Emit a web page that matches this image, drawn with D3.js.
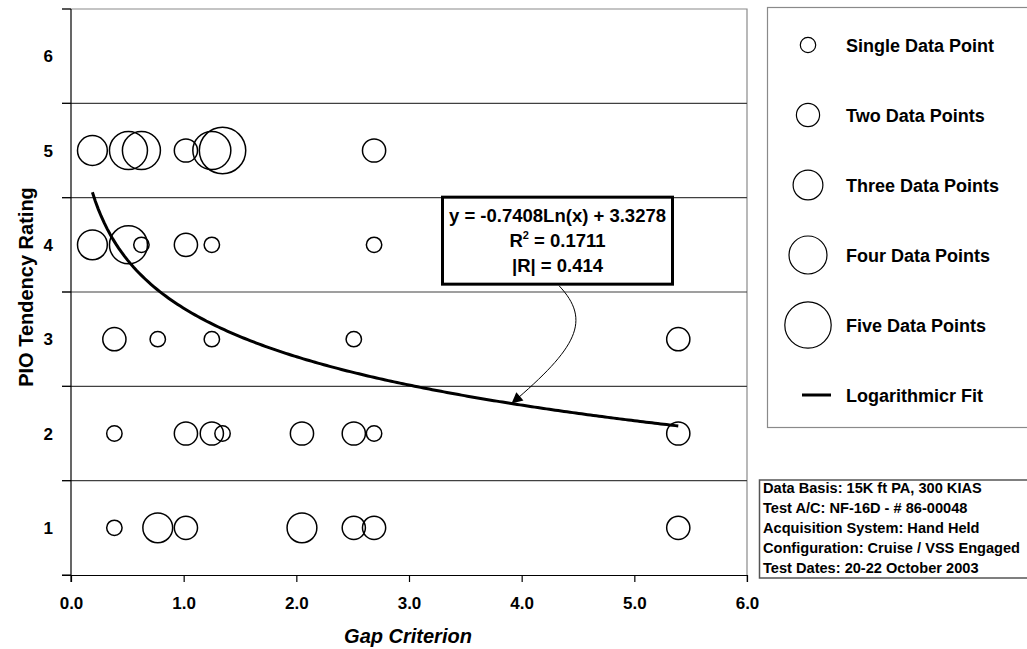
<!DOCTYPE html>
<html>
<head>
<meta charset="utf-8">
<script src="https://cdn.jsdelivr.net/npm/d3@7"></script>
<style>
  html, body { margin: 0; padding: 0; background: #fff; overflow: hidden; }
  svg { display: block; font-family: "Liberation Sans", Arial, sans-serif; font-weight: bold; }
</style>
</head>
<body>
<svg id="chart" width="1027" height="649"></svg>
<script>
// ---------------- data ----------------
const ratings     = [5,5,5,5,5,5,5, 4,4,4,4,4,4, 3,3,3,3,3, 2,2,2,2,2,2,2,2, 1,1,1,1,1,1,1];
const gapValues   = [0.19,0.51,0.625,1.02,1.25,1.345,2.69,
                     0.19,0.51,0.625,1.02,1.25,2.69,
                     0.385,0.77,1.25,2.51,5.39,
                     0.385,1.02,1.25,1.345,2.05,2.51,2.69,5.39,
                     0.385,0.77,1.02,2.05,2.51,2.69,5.39];
const pointCounts = [3,4,4,2,4,5,2,
                     3,4,1,2,1,1,
                     2,1,1,1,2,
                     1,2,2,1,2,2,1,2,
                     1,3,2,3,2,2,2];
const xTicks = [0,1,2,3,4,5,6];
const yTicks = [1,2,3,4,5,6];
const fitSlope = -0.7408;
const fitIntercept = 3.3278;
const fitLines = ["y = -0.7408Ln(x) + 3.3278", "R2 = 0.1711", "|R| = 0.414"];
const legendLabels = ["Single Data Point","Two Data Points","Three Data Points","Four Data Points","Five Data Points","Logarithmicr Fit"];
const legendCounts = [1,2,3,4,5];
const infoLines = ["Data Basis: 15K ft PA, 300 KIAS","Test A/C: NF-16D - # 86-00048","Acquisition System: Hand Held","Configuration: Cruise / VSS Engaged","Test Dates: 20-22 October 2003"];
const xTitle = "Gap Criterion";
const yTitle = "PIO Tendency Rating";
const arrowTargetX = 3.91;

// ---------------- layout ----------------
const svg = d3.select("#chart");
const x = d3.scaleLinear().domain([0, 6]).range([71, 747]);
const y = d3.scaleLinear().domain([0.5, 6.5]).range([575, 9]);
const rScale = d3.scaleOrdinal().domain([1,2,3,4,5]).range([7.7, 11.6, 14.9, 19, 23.2]);

const defs = svg.append("defs");
defs.append("marker").attr("id","arrow")
  .attr("viewBox","0 0 10 10").attr("refX",10).attr("refY",5)
  .attr("markerUnits","userSpaceOnUse").attr("markerWidth",15).attr("markerHeight",11)
  .attr("orient","auto")
  .append("path").attr("d","M0,0 L10,5 L0,10 Z").attr("fill","#000");

// plot border (top/right)
svg.append("path")
  .attr("d", `M${x(0)-9},${y(6.5)} H${x(6)} V${y(0.5)+7}`)
  .attr("fill","none").attr("stroke","#8a8a8a").attr("stroke-width",1.2);

// horizontal separators
const sep = [1.5,2.5,3.5,4.5,5.5];
svg.append("g").selectAll("line").data(sep).join("line")
  .attr("x1", x(0)-9).attr("x2", x(6))
  .attr("y1", d => y(d)).attr("y2", d => y(d))
  .attr("stroke","#404040").attr("stroke-width",1.1);

// x axis
const xAxis = d3.axisBottom(x).tickValues(xTicks).tickFormat(d3.format(".1f")).tickSize(7).tickSizeOuter(0).tickPadding(0);
const gx = svg.append("g").attr("transform", `translate(0,${y(0.5)})`).call(xAxis);
gx.select(".domain").attr("d", `M${x(0)-9},0.5H${x(6)}`).attr("stroke","#000").attr("stroke-width",1.2);
gx.selectAll(".tick line").attr("stroke","#000").attr("stroke-width",1.2);
gx.selectAll(".tick text").attr("y", 34).attr("dy", 0).attr("fill","#000")
  .style("font-size","17px").style("font-family",'"Liberation Sans", Arial, sans-serif').style("font-weight","bold");

// y axis (line + tick marks at boundaries)
svg.append("line").attr("x1", x(0)).attr("x2", x(0)).attr("y1", y(6.5)).attr("y2", y(0.5)+7)
  .attr("stroke","#000").attr("stroke-width",1.2);
svg.append("g").selectAll("line").data([0.5,1.5,2.5,3.5,4.5,5.5,6.5]).join("line")
  .attr("x1", x(0)-9).attr("x2", x(0)).attr("y1", d => y(d)).attr("y2", d => y(d))
  .attr("stroke","#000").attr("stroke-width",1.1);
svg.append("g").selectAll("text").data(yTicks).join("text")
  .attr("x", 53).attr("y", d => y(d) + 6).attr("text-anchor","end")
  .style("font-size","17px").text(d => d);

// axis titles
svg.append("text").attr("x", (x(0)+x(6))/2 - 1).attr("y", 643).attr("text-anchor","middle")
  .style("font-size","20px").style("font-style","italic").text(xTitle);
svg.append("text").attr("transform","translate(33,287) rotate(-90)").attr("text-anchor","middle")
  .style("font-size","20px").text(yTitle);

// bubbles
const pts = ratings.map((r,i) => ({r, g: gapValues[i], n: pointCounts[i]}));
svg.append("g").selectAll("circle").data(pts).join("circle")
  .attr("cx", d => x(d.g)).attr("cy", d => y(d.r)).attr("r", d => rScale(d.n))
  .attr("fill","none").attr("stroke","#000").attr("stroke-width",1.5);

// log fit
const [gMin, gMax] = d3.extent(gapValues);
const fitPts = d3.range(0, 201).map(i => {
  const gx_ = gMin + (gMax - gMin) * i / 200;
  return [gx_, fitSlope * Math.log(gx_) + fitIntercept];
});
svg.append("path").datum(fitPts)
  .attr("d", d3.line().x(d => x(d[0])).y(d => y(d[1])))
  .attr("fill","none").attr("stroke","#000").attr("stroke-width",3);

// annotation box
const bx = 442.5, by = y(4.5) - 0.5, bw = 230, bh = 87;
svg.append("rect").attr("x", bx).attr("y", by).attr("width", bw).attr("height", bh)
  .attr("fill","#fff").attr("stroke","#000").attr("stroke-width",3);
const cx0 = bx + bw/2;
svg.append("text").attr("x", cx0).attr("y", 222).attr("text-anchor","middle").style("font-size","18.5px").text(fitLines[0]);
const t2 = svg.append("text").attr("x", cx0).attr("y", 247).attr("text-anchor","middle").style("font-size","18.5px");
t2.append("tspan").text(fitLines[1].slice(0,1));
t2.append("tspan").attr("dy", -8).style("font-size","11px").text(fitLines[1].slice(1,2));
t2.append("tspan").attr("dy", 8).text(fitLines[1].slice(2));
svg.append("text").attr("x", cx0).attr("y", 272).attr("text-anchor","middle").style("font-size","18.5px").text(fitLines[2]);

// connector arrow
const tx = x(arrowTargetX), ty = y(fitSlope * Math.log(arrowTargetX) + fitIntercept);
const sx = 559, sy = by + bh + 1.5;
svg.append("path")
  .attr("d", `M${sx},${sy} C${sx+33},${sy+35} ${sx+18},${sy+62} ${tx},${ty}`)
  .attr("fill","none").attr("stroke","#000").attr("stroke-width",1)
  .attr("marker-end","url(#arrow)");

// legend
const lg = svg.append("g");
lg.append("rect").attr("x", 767.5).attr("y", 7.5).attr("width", 300).attr("height", 420)
  .attr("fill","#fff").attr("stroke","#8a8a8a").attr("stroke-width",1.2);
legendCounts.forEach((n,i) => {
  lg.append("circle").attr("cx", 808).attr("cy", 45 + 70*i).attr("r", rScale(n))
    .attr("fill","none").attr("stroke","#000").attr("stroke-width",1.2);
});
lg.append("line").attr("x1", 802).attr("x2", 831).attr("y1", 395).attr("y2", 395)
  .attr("stroke","#000").attr("stroke-width",3);
legendLabels.forEach((t,i) => {
  lg.append("text").attr("x", 846).attr("y", 45 + 70*i + 6.5).style("font-size","18px").text(t);
});

// info box
const ib = svg.append("g");
ib.append("rect").attr("x", 759.5).attr("y", 480).attr("width", 300).attr("height", 98)
  .attr("fill","#fff").attr("stroke","#555").attr("stroke-width",1.5);
infoLines.forEach((t,i) => {
  ib.append("text").attr("x", 763).attr("y", 493 + 20*i).style("font-size","14.6px").text(t);
});
</script>
</body>
</html>
